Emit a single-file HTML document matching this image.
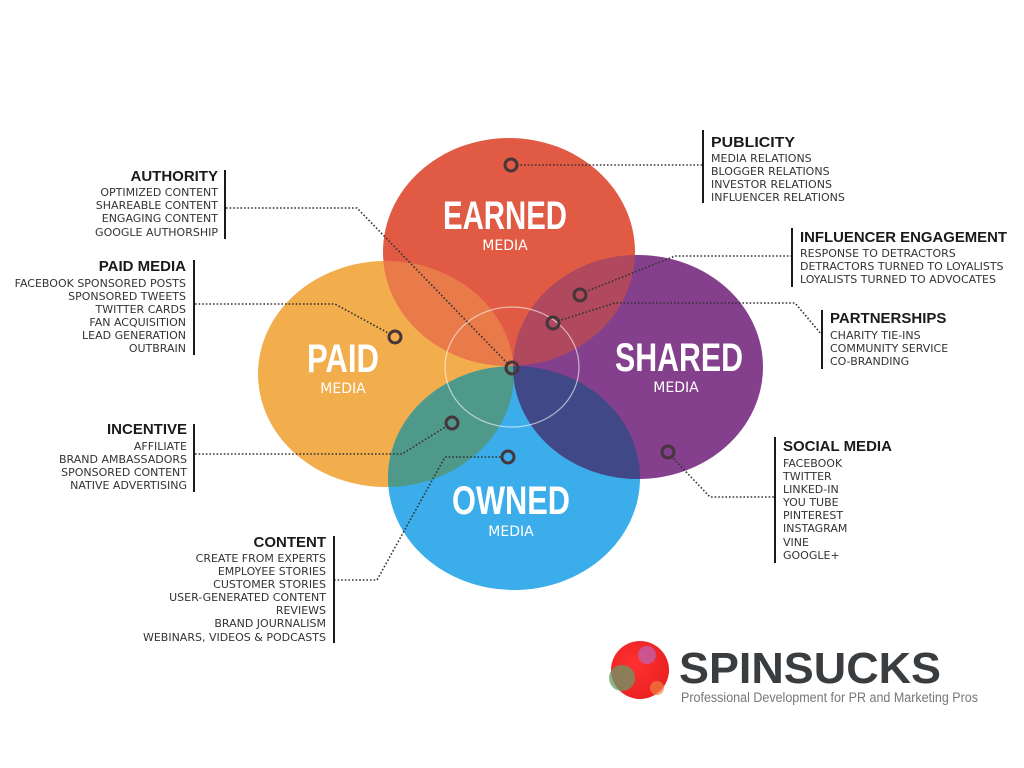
<!DOCTYPE html>
<html><head><meta charset="utf-8"><style>
html,body{margin:0;padding:0;background:#fff;}
svg{display:block;}
.t{font-family:"Liberation Sans",sans-serif;font-weight:bold;fill:#1a1a1a;font-size:15px;}
.i{font-family:"DejaVu Sans",sans-serif;fill:#333;font-size:11px;}
.big{font-family:"Liberation Sans Narrow","Liberation Sans",sans-serif;font-weight:bold;fill:#fff;font-size:40px;}
.med{font-family:"DejaVu Sans",sans-serif;fill:#fff;font-size:14px;}
.dot{fill:none;stroke:#333;stroke-width:1.6;stroke-dasharray:1.6 2;}
.ring{fill:none;stroke:#46363a;stroke-width:3;}
.bar{stroke:#1a1a1a;stroke-width:2;}
</style></head><body>
<svg width="1024" height="768" viewBox="0 0 1024 768">
<defs>
<clipPath id="cE"><ellipse cx="509" cy="252" rx="126" ry="114"/></clipPath>
<clipPath id="cP"><ellipse cx="386" cy="374" rx="128" ry="113"/></clipPath>
<clipPath id="cS"><ellipse cx="638" cy="367" rx="125" ry="112"/></clipPath>
<radialGradient id="rg" cx="0.4" cy="0.4" r="0.7"><stop offset="0" stop-color="#ff3030"/><stop offset="1" stop-color="#e82020"/></radialGradient>
</defs>
<ellipse cx="386" cy="374" rx="128" ry="113" fill="#f2ad4d"/>
<ellipse cx="514" cy="478" rx="126" ry="112" fill="#3badeb"/>
<ellipse cx="509" cy="252" rx="126" ry="114" fill="#e05a44"/>
<ellipse cx="638" cy="367" rx="125" ry="112" fill="#84408c"/>
<ellipse cx="509" cy="252" rx="126" ry="114" fill="#e97a4a" clip-path="url(#cP)"/>
<ellipse cx="509" cy="252" rx="126" ry="114" fill="#b0485e" clip-path="url(#cS)"/>
<ellipse cx="514" cy="478" rx="126" ry="112" fill="#4f998a" clip-path="url(#cP)"/>
<ellipse cx="514" cy="478" rx="126" ry="112" fill="#414888" clip-path="url(#cS)"/>
<ellipse cx="512" cy="367" rx="67" ry="60" fill="none" stroke="#fff" stroke-opacity="0.6" stroke-width="1.2"/>

<text class="big" x="505" y="229" text-anchor="middle" textLength="124" lengthAdjust="spacingAndGlyphs">EARNED</text>
<text class="med" x="505" y="250" text-anchor="middle">MEDIA</text>
<text class="big" x="343" y="372" text-anchor="middle" textLength="72" lengthAdjust="spacingAndGlyphs">PAID</text>
<text class="med" x="343" y="393" text-anchor="middle">MEDIA</text>
<text class="big" x="679" y="371" text-anchor="middle" textLength="128" lengthAdjust="spacingAndGlyphs">SHARED</text>
<text class="med" x="676" y="392" text-anchor="middle">MEDIA</text>
<text class="big" x="511" y="514" text-anchor="middle" textLength="118" lengthAdjust="spacingAndGlyphs">OWNED</text>
<text class="med" x="511" y="536" text-anchor="middle">MEDIA</text>

<polyline class="dot" points="517,165 703,165"/>
<polyline class="dot" points="226,208 357,208 508,364"/>
<polyline class="dot" points="195,304 335,304 390,334"/>
<polyline class="dot" points="585,292 675,256 792,256"/>
<polyline class="dot" points="558,321 615,303 795,303 822,335"/>
<polyline class="dot" points="671,456 710,497 775,497"/>
<polyline class="dot" points="195,454 402,454 447,426"/>
<polyline class="dot" points="334,580 377,580 445,457 502,457"/>

<circle class="ring" cx="511" cy="165" r="6"/>
<circle class="ring" cx="512" cy="368" r="6"/>
<circle class="ring" cx="395" cy="337" r="6"/>
<circle class="ring" cx="580" cy="295" r="6"/>
<circle class="ring" cx="553" cy="323" r="6"/>
<circle class="ring" cx="668" cy="452" r="6"/>
<circle class="ring" cx="452" cy="423" r="6"/>
<circle class="ring" cx="508" cy="457" r="6"/>

<line class="bar" x1="703" y1="130" x2="703" y2="203"/>
<text class="t" x="711" y="147" textLength="84" lengthAdjust="spacingAndGlyphs">PUBLICITY</text>
<text class="i" x="711" y="162">MEDIA RELATIONS</text>
<text class="i" x="711" y="175">BLOGGER RELATIONS</text>
<text class="i" x="711" y="188">INVESTOR RELATIONS</text>
<text class="i" x="711" y="201">INFLUENCER RELATIONS</text>

<line class="bar" x1="792" y1="228" x2="792" y2="287"/>
<text class="t" x="800" y="242" textLength="207" lengthAdjust="spacingAndGlyphs">INFLUENCER ENGAGEMENT</text>
<text class="i" x="800" y="257">RESPONSE TO DETRACTORS</text>
<text class="i" x="800" y="270">DETRACTORS TURNED TO LOYALISTS</text>
<text class="i" x="800" y="283">LOYALISTS TURNED TO ADVOCATES</text>

<line class="bar" x1="822" y1="310" x2="822" y2="369"/>
<text class="t" x="830" y="323">PARTNERSHIPS</text>
<text class="i" x="830" y="339">CHARITY TIE-INS</text>
<text class="i" x="830" y="352">COMMUNITY SERVICE</text>
<text class="i" x="830" y="365">CO-BRANDING</text>

<line class="bar" x1="775" y1="437" x2="775" y2="563"/>
<text class="t" x="783" y="451">SOCIAL MEDIA</text>
<text class="i" x="783" y="467">FACEBOOK</text>
<text class="i" x="783" y="480">TWITTER</text>
<text class="i" x="783" y="493">LINKED-IN</text>
<text class="i" x="783" y="506">YOU TUBE</text>
<text class="i" x="783" y="519">PINTEREST</text>
<text class="i" x="783" y="532">INSTAGRAM</text>
<text class="i" x="783" y="546">VINE</text>
<text class="i" x="783" y="559">GOOGLE+</text>

<line class="bar" x1="225" y1="170" x2="225" y2="239"/>
<g text-anchor="end">
<text class="t" x="218" y="181">AUTHORITY</text>
<text class="i" x="218" y="196">OPTIMIZED CONTENT</text>
<text class="i" x="218" y="209">SHAREABLE CONTENT</text>
<text class="i" x="218" y="222">ENGAGING CONTENT</text>
<text class="i" x="218" y="236">GOOGLE AUTHORSHIP</text>
</g>

<line class="bar" x1="194" y1="260" x2="194" y2="355"/>
<g text-anchor="end">
<text class="t" x="186" y="271">PAID MEDIA</text>
<text class="i" x="186" y="287">FACEBOOK SPONSORED POSTS</text>
<text class="i" x="186" y="300">SPONSORED TWEETS</text>
<text class="i" x="186" y="313">TWITTER CARDS</text>
<text class="i" x="186" y="326">FAN ACQUISITION</text>
<text class="i" x="186" y="339">LEAD GENERATION</text>
<text class="i" x="186" y="352">OUTBRAIN</text>
</g>

<line class="bar" x1="194" y1="424" x2="194" y2="492"/>
<g text-anchor="end">
<text class="t" x="187" y="434">INCENTIVE</text>
<text class="i" x="187" y="450">AFFILIATE</text>
<text class="i" x="187" y="463">BRAND AMBASSADORS</text>
<text class="i" x="187" y="476">SPONSORED CONTENT</text>
<text class="i" x="187" y="489">NATIVE ADVERTISING</text>
</g>

<line class="bar" x1="334" y1="536" x2="334" y2="643"/>
<g text-anchor="end">
<text class="t" x="326" y="547">CONTENT</text>
<text class="i" x="326" y="562">CREATE FROM EXPERTS</text>
<text class="i" x="326" y="575">EMPLOYEE STORIES</text>
<text class="i" x="326" y="588">CUSTOMER STORIES</text>
<text class="i" x="326" y="601">USER-GENERATED CONTENT</text>
<text class="i" x="326" y="614">REVIEWS</text>
<text class="i" x="326" y="627">BRAND JOURNALISM</text>
<text class="i" x="326" y="641">WEBINARS, VIDEOS &amp; PODCASTS</text>
</g>

<circle cx="640" cy="670" r="29" fill="url(#rg)"/>
<circle cx="647" cy="655" r="9" fill="#b070d0" opacity="0.6"/>
<circle cx="622" cy="678" r="13" fill="#6a9a6a" opacity="0.75"/>
<circle cx="657" cy="688" r="7" fill="#f08040" opacity="0.7"/>
<text x="679" y="683" font-family="Liberation Sans,sans-serif" font-weight="bold" font-size="44" fill="#3a3d40" textLength="262" lengthAdjust="spacingAndGlyphs">SPINSUCKS</text>
<text x="681" y="702" font-family="Liberation Sans,sans-serif" font-size="13.5" fill="#777" textLength="297" lengthAdjust="spacingAndGlyphs">Professional Development for PR and Marketing Pros</text>
</svg>
</body></html>
